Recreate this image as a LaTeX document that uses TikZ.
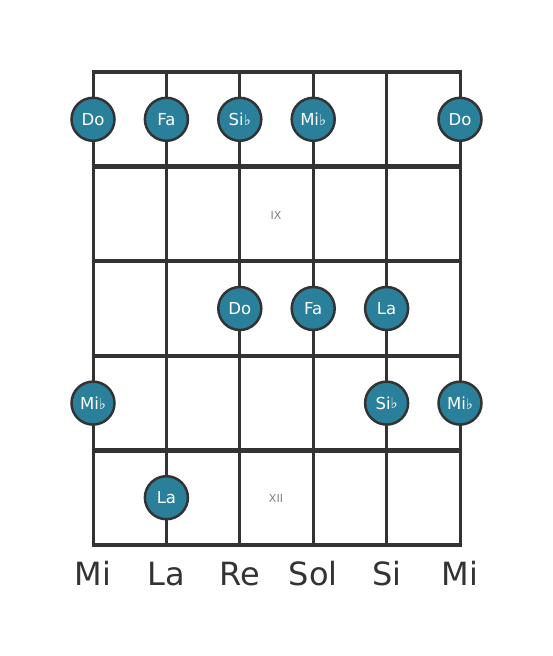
\documentclass[tikz,border=0pt]{standalone}
\usepackage{fontspec}
\setmainfont{DejaVu Sans}
\definecolor{dotfill}{HTML}{2A7F9B}
\definecolor{ink}{HTML}{333333}
\newcommand{\flt}{\raisebox{0.3pt}{\fontsize{15}{15}\selectfont ♭}}
\begin{document}
\begin{tikzpicture}[x=1pt,y=-1pt,
  fret/.style={draw=ink,line width=4.5pt},
  str/.style={draw=ink,line width=3pt},
  notedot/.style={circle,fill=dotfill,draw=ink,line width=2.5pt,minimum size=43pt,inner sep=0pt,text=white,font=\fontsize{16.5}{16.5}\selectfont},
  strname/.style={text=ink,font=\fontsize{32}{32}\selectfont,anchor=base},
  fretnum/.style={text=gray,font=\fontsize{11}{11}\selectfont}]
\useasboundingbox (0,0) rectangle (553,656);
\foreach \x [count=\i] in {93,166.4,239.8,313.2,386.6,460} {
  \coordinate (t\i) at (\x,72);
  \coordinate (b\i) at (\x,545);
  \draw[str] (t\i) -- (b\i);
}
\foreach \y [count=\j] in {72,166.6,261.2,355.8,450.4,545} {
  \coordinate (l\j) at (93,\y);
  \coordinate (r\j) at (460,\y);
  \draw[fret] ([xshift=-1.5pt]l\j) -- ([xshift=1.5pt]r\j);
}
\node[fretnum] (ix) at (276,215) {IX};
\node[fretnum] (xii) at (276,498) {XII};
% row 1
\node[notedot] (d1) at (93,119.3) {Do};
\node[notedot] (d2) at (166.4,119.3) {Fa};
\node[notedot] (d3) at (239.8,119.3) {Si\flt};
\node[notedot] (d4) at (313.2,119.3) {Mi\flt};
\node[notedot] (d5) at (460,119.3) {Do};
% row 3
\node[notedot] (d6) at (239.8,308.5) {Do};
\node[notedot] (d7) at (313.2,308.5) {Fa};
\node[notedot] (d8) at (386.6,308.5) {La};
% row 4
\node[notedot] (d9) at (93,403.1) {Mi\flt};
\node[notedot] (d10) at (386.6,403.1) {Si\flt};
\node[notedot] (d11) at (460,403.1) {Mi\flt};
% row 5
\node[notedot] (d12) at (166.4,497.7) {La};
% string names
\node[strname] (n1) at (93,585) {Mi};
\node[strname] (n2) at (166.4,585) {La};
\node[strname] (n3) at (239.8,585) {Re};
\node[strname] (n4) at (313.2,585) {Sol};
\node[strname] (n5) at (386.6,585) {Si};
\node[strname] (n6) at (460,585) {Mi};
\end{tikzpicture}
\end{document}
